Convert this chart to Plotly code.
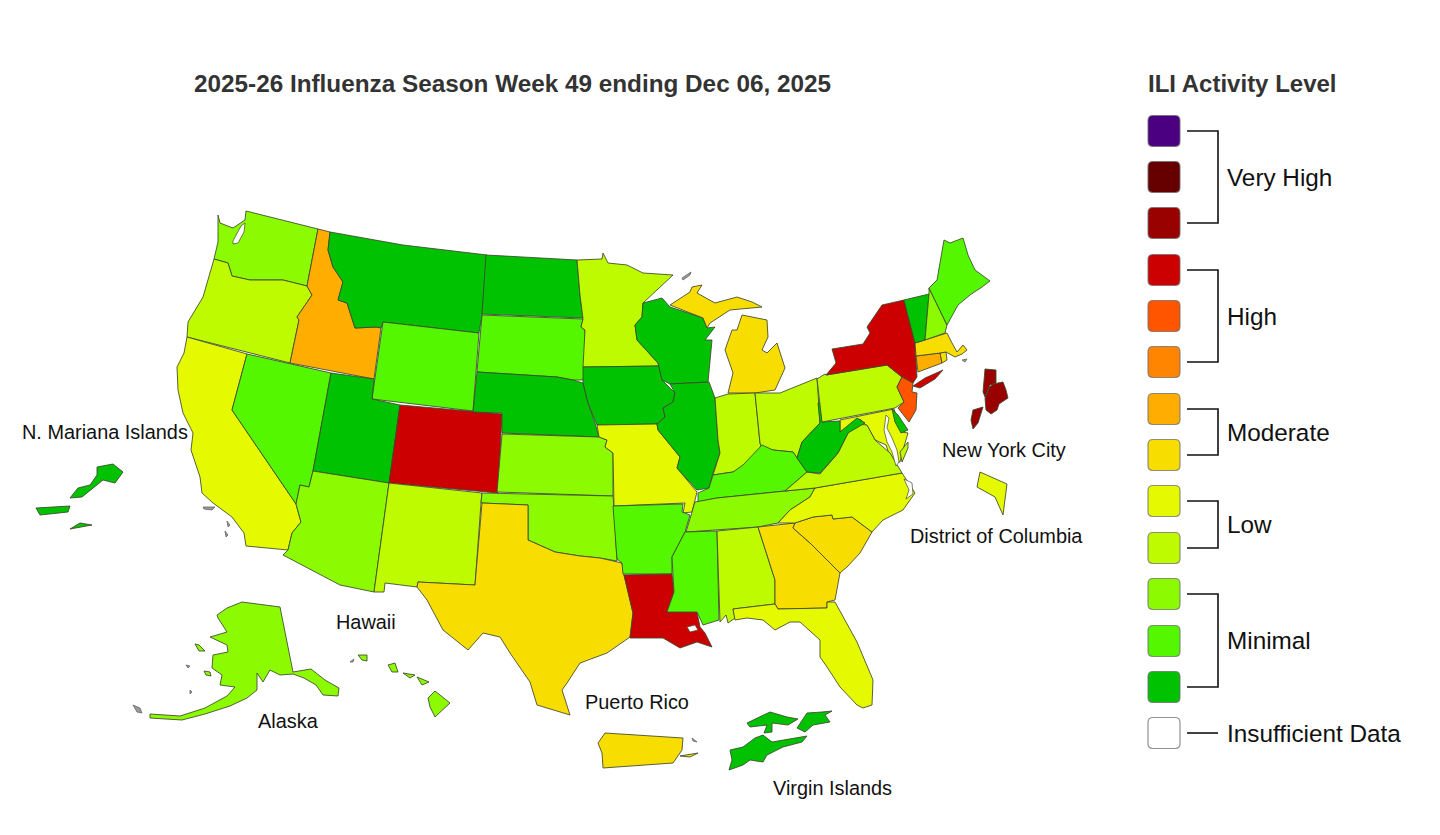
import plotly.graph_objects as go

# The map's topojson cannot be fetched offline, so region outlines are traced here
# as map geometry, in the reference's 1440x835 frame.
LEVEL_COLORS = {0: "#FFFFFF", 1: "#00C200", 2: "#55F700", 3: "#8CFA00", 4: "#BEFA00", 5: "#E5FA00",
                6: "#F8DD00", 7: "#FFAE00", 8: "#FF8400", 9: "#FF5500", 10: "#CC0000",
                11: "#990000", 12: "#660000", 13: "#4B0082"}

STATE_LEVELS = {
    "Washington": 3, "Oregon": 4, "California": 5, "Nevada": 2, "Idaho": 7, "Montana": 1, "Wyoming": 2,
    "Utah": 1, "Colorado": 10, "Arizona": 3, "New Mexico": 4, "North Dakota": 1, "South Dakota": 2,
    "Nebraska": 1, "Kansas": 3, "Oklahoma": 3, "Texas": 6, "Minnesota": 4, "Iowa": 1, "Missouri": 5,
    "Arkansas": 2, "Louisiana": 10, "Wisconsin": 1, "Illinois": 1, "Michigan": 6, "Indiana": 4, "Ohio": 4,
    "Kentucky": 2, "Tennessee": 3, "Mississippi": 2, "Alabama": 4, "Georgia": 6, "Florida": 5,
    "South Carolina": 6, "North Carolina": 5, "Virginia": 4, "Maryland": 5, "West Virginia": 1,
    "Delaware": 1, "Pennsylvania": 4, "New York": 10, "New Jersey": 9, "Connecticut": 7, "Rhode Island": 6,
    "Massachusetts": 6, "Vermont": 1, "New Hampshire": 3, "Maine": 2, "District of Columbia": 5,
    "New York City": 11, "Alaska": 3, "Hawaii": 3, "Puerto Rico": 6, "Virgin Islands": 1,
    "N. Mariana Islands": 1,
}

STATE_OUTLINES = {
    "Washington": [[(218,215),(220,223),(233,228),(245,220),(246,211),(318,229),(307,286),(283,280),(250,280),(232,276),(228,263),(217,260),(214,259),(218,242)]],
    "Oregon": [[(214,259),(217,260),(228,263),(232,276),(250,280),(283,280),(307,286),(312,295),(297,317),(299,320),(290,363),(187,337),(188,322),(203,297)]],
    "California": [[(187,337),(247,354),(232,410),(296,504),(301,522),(292,533),(288,550),(246,546),(244,533),(232,517),(213,503),(202,493),(200,477),(191,450),(193,433),(183,413),(178,390),(177,367),(184,353)]],
    "Nevada": [[(247,354),(331,373),(313,471),(309,487),(300,485),(296,504),(232,410)]],
    "Idaho": [[(318,229),(330,232),(328,250),(333,267),(343,282),(338,300),(347,303),(355,328),(377,327),(381,328),(374,379),(290,363),(299,320),(297,317),(312,295),(307,286)]],
    "Montana": [[(330,232),(403,245),(487,255),(482,315),(479,333),(383,322),(381,328),(377,327),(355,328),(347,303),(338,300),(343,282),(333,267),(328,250)]],
    "Wyoming": [[(383,322),(479,333),(473,411),(372,399)]],
    "Utah": [[(331,373),(374,379),(372,399),(400,405),(389,483),(313,471)]],
    "Colorado": [[(400,405),(502,414),(498,493),(389,483)]],
    "Arizona": [[(313,471),(389,483),(374,592),(340,585),(283,555),(288,550),(292,533),(301,522),(296,504),(300,485),(309,487)]],
    "New Mexico": [[(389,483),(482,493),(481,503),(475,585),(418,582),(417,587),(385,583),(384,592),(374,592)]],
    "North Dakota": [[(486,255),(577,260),(580,295),(583,318),(482,314)]],
    "South Dakota": [[(482,315),(583,319),(581,327),(585,330),(585,367),(583,380),(573,380),(557,377),(477,372)]],
    "Nebraska": [[(477,372),(557,377),(573,380),(583,383),(588,403),(595,423),(599,437),(502,433),(502,413),(473,412)]],
    "Kansas": [[(502,434),(599,437),(607,440),(605,447),(613,453),(613,496),(497,492)]],
    "Oklahoma": [[(482,493),(613,496),(614,507),(617,561),(600,558),(580,556),(555,552),(528,540),(528,505),(481,503)]],
    "Texas": [[(482,503),(528,505),(528,540),(555,552),(580,556),(600,558),(622,563),(624,575),(633,613),(630,637),(607,653),(580,663),(567,683),(562,690),(570,715),(537,705),(530,682),(510,653),(500,637),(483,633),(468,650),(443,630),(427,600),(417,587),(418,582),(475,585)]],
    "Minnesota": [[(577,260),(602,259),(603,253),(608,263),(627,265),(643,273),(673,275),(643,303),(642,317),(635,325),(637,340),(658,363),(659,366),(583,367),(585,330),(581,327),(583,319),(580,295)]],
    "Iowa": [[(583,367),(659,366),(662,380),(675,393),(673,402),(663,408),(665,417),(657,424),(597,425),(588,403),(583,383)]],
    "Missouri": [[(597,425),(657,424),(658,430),(680,457),(677,468),(697,492),(692,512),(683,513),(685,503),(614,506),(613,453),(605,447),(607,440),(599,437)]],
    "Arkansas": [[(613,506),(683,504),(682,512),(690,515),(685,532),(672,557),(672,574),(623,574),(622,563),(617,559)]],
    "Louisiana": [[(624,575),(672,574),(674,592),(667,612),(697,612),(700,627),(705,633),(712,647),(697,642),(680,648),(663,638),(630,638),(633,613)]],
    "Wisconsin": [[(643,303),(662,298),(670,307),(703,318),(707,328),(715,327),(705,340),(712,340),(708,382),(670,384),(662,380),(659,366),(658,363),(637,340),(635,325),(642,317)]],
    "Illinois": [[(670,384),(709,382),(715,398),(718,440),(720,453),(713,473),(709,488),(697,490),(677,468),(680,457),(658,430),(657,424),(665,417),(663,408),(673,402),(675,393)]],
    "Michigan": [[(728,393),(733,373),(725,350),(732,330),(737,330),(742,315),(767,320),(768,337),(762,350),(767,353),(777,343),(785,368),(775,390),(755,393)],
                 [(670,305),(690,292),(692,287),(702,285),(697,293),(715,303),(737,297),(752,302),(762,307),(743,309),(730,310),(710,323),(707,328),(703,318)]],
    "Indiana": [[(715,398),(728,394),(755,393),(760,443),(762,448),(743,467),(733,472),(713,475),(720,453),(718,440)]],
    "Ohio": [[(755,393),(780,393),(817,378),(820,423),(802,442),(797,458),(793,452),(773,450),(762,448),(760,443)]],
    "Kentucky": [[(698,502),(698,493),(709,488),(713,475),(733,472),(743,465),(762,445),(773,450),(793,452),(797,458),(807,472),(785,491),(717,498)]],
    "Tennessee": [[(686,532),(691,515),(695,502),(717,498),(785,491),(815,488),(810,497),(790,510),(778,523),(758,527)]],
    "Mississippi": [[(685,532),(717,531),(719,620),(703,625),(697,612),(667,612),(674,592),(672,557)]],
    "Alabama": [[(717,531),(758,527),(775,580),(775,604),(733,609),(735,618),(728,623),(726,615),(720,622)]],
    "Georgia": [[(758,527),(795,523),(793,528),(810,543),(840,573),(835,600),(827,602),(827,608),(778,609),(775,604),(775,580)]],
    "Florida": [[(733,609),(775,604),(778,609),(827,608),(827,602),(835,602),(857,642),(873,680),(872,705),(863,708),(857,705),(840,687),(827,667),(820,657),(820,640),(800,622),(790,622),(775,630),(763,620),(747,618),(735,620)]],
    "South Carolina": [[(795,523),(813,517),(832,515),(833,519),(852,517),(872,532),(860,553),(847,567),(840,573),(810,543),(793,528)]],
    "North Carolina": [[(815,488),(902,473),(915,493),(903,510),(883,520),(872,532),(852,517),(833,519),(832,515),(813,517),(795,523),(778,523),(790,510),(810,497)]],
    "Maryland": [[(840,420),(894,409),(902,432),(908,433),(903,450),(900,462),(892,462),(886,445),(875,440),(868,427),(860,419),(848,428),(840,432)]],
    "Virginia": [[(785,491),(807,472),(820,474),(838,453),(842,445),(848,433),(857,424),(867,425),(875,440),(890,453),(902,473),(815,488)],
                 [(908,442),(908,448),(902,462),(900,452)]],
    "West Virginia": [[(797,458),(802,442),(820,423),(818,403),(821,402),(822,422),(840,421),(840,432),(857,418),(865,423),(848,433),(842,445),(838,453),(820,473),(807,472)]],
    "Delaware": [[(892,409),(898,415),(908,430),(901,433),(895,422)]],
    "Pennsylvania": [[(817,379),(825,374),(826,375),(887,365),(902,377),(897,387),(904,402),(895,408),(822,422)]],
    "New York": [[(826,375),(836,363),(832,349),(863,344),(870,333),(867,327),(882,305),(904,300),(915,343),(917,377),(913,383),(902,377),(887,365)],
                 [(913,386),(925,378),(943,370),(935,379),(920,388)]],
    "New Jersey": [[(902,377),(913,383),(912,392),(917,393),(916,410),(909,422),(898,408),(904,402),(897,387)]],
    "Connecticut": [[(916,356),(940,353),(942,363),(918,372)]],
    "Rhode Island": [[(940,353),(946,352),(947,360),(942,363)]],
    "Massachusetts": [[(915,343),(947,333),(952,343),(957,352),(963,345),(967,350),(962,354),(955,357),(946,352),(940,353),(916,356)]],
    "Vermont": [[(904,300),(929,294),(925,340),(915,343)]],
    "New Hampshire": [[(929,288),(947,325),(945,333),(925,340),(929,294)]],
    "Maine": [[(929,288),(937,280),(944,240),(950,243),(963,238),(968,255),(975,270),(990,281),(982,287),(970,295),(958,305),(947,325)]],
    "District of Columbia": [[(980,472),(1007,484),(1003,515),(995,497),(977,487)]],
    "New York City": [[(985,369),(996,370),(996,383),(990,385),(985,397),(983,392)],
                      [(989,388),(993,384),(1003,382),(1006,390),(1008,398),(999,404),(997,410),(991,414),(986,410),(985,398)],
                      [(973,410),(983,407),(978,423),(973,429),(971,420)]],
    "Alaska": [[(217,615),(227,608),(242,602),(280,607),(293,672),(311,669),(325,680),(339,688),(338,696),(323,695),(316,685),(304,678),(293,674),(280,675),(270,670),(263,682),(257,673),(257,690),(247,698),(230,706),(205,714),(182,720),(150,718),(150,714),(180,716),(205,708),(227,696),(235,687),(220,685),(222,675),(212,668),(213,655),(228,652),(227,645),(210,637),(227,632),(218,618)],
               [(195,644),(199,645),(205,651),(199,651)], [(204,671),(210,672),(211,676),(206,675)]],
    "Hawaii": [[(428,698),(435,691),(450,703),(435,717),(430,707)], [(417,677),(429,682),(422,685)],
               [(403,673),(415,675),(410,678)], [(388,665),(395,663),(398,672),(392,672)],
               [(358,655),(367,655),(367,661),(362,660)]],
    "Puerto Rico": [[(598,743),(605,733),(683,738),(682,750),(673,763),(603,768),(602,753)], [(680,756),(698,753),(690,757)]],
    "Virgin Islands": [[(747,723),(762,716),(770,712),(787,717),(798,719),(788,725),(772,723),(772,732),(764,733),(767,725),(750,727)],
                       [(797,728),(807,713),(822,712),(832,711),(825,715),(830,722),(813,725),(805,732)],
                       [(730,750),(743,747),(755,738),(763,735),(772,742),(807,736),(802,742),(783,747),(767,755),(763,762),(750,760),(743,765),(729,770),(732,760)]],
    "N. Mariana Islands": [[(97,467),(113,464),(123,472),(115,483),(103,480),(93,488),(82,497),(70,498),(78,488),(90,485),(97,475)],
                           [(36,508),(70,506),(68,512),(40,515)], [(70,529),(80,523),(92,525),(80,527)]],
}

WATER_OUTLINES = [
    [(241,226),(245,223),(244,232),(238,243),(233,244),(233,241)],
    [(886,415),(889,418),(887,428),(892,438),(897,450),(899,462),(896,466),(892,452),(887,442),(884,430)],
    [(904,479),(912,483),(913,494),(906,499),(909,490)],
    [(687,627),(695,625),(698,630),(690,632)],
]
MINOR_ISLANDS = [
    [(682,278),(691,272),(690,275),(683,280)], [(203,507),(215,507),(212,510),(204,509)],
    [(227,521),(230,525),(228,527)], [(225,531),(228,535),(226,537)],
    [(186,665),(190,666),(188,668)], [(190,690),(192,692),(190,694)],
    [(133,705),(140,708),(142,713),(137,712)], [(350,662),(354,659),(353,662)],
    [(692,738),(697,742),(693,741)], [(962,360),(967,359),(965,362)],
]

TITLE = "2025-26 Influenza Season Week 49 ending Dec 06, 2025"
LEGEND_TITLE = "ILI Activity Level"
SWATCH_LEVELS = [13, 12, 11, 10, 9, 8, 7, 6, 5, 4, 3, 2, 1, 0]
SWATCH_CENTERS = [131, 177, 223, 270, 316, 362, 409, 455, 501, 548, 594, 641, 687, 733]
LEGEND_GROUPS = [("Very High", 131, 223), ("High", 270, 362), ("Moderate", 409, 455),
                 ("Low", 501, 548), ("Minimal", 594, 687), ("Insufficient Data", 733, 733)]
MAP_LABELS = [("N. Mariana Islands", 105, 432), ("New York City", 1004, 450), ("District of Columbia", 996, 536),
              ("Hawaii", 366, 622), ("Alaska", 288, 721), ("Puerto Rico", 637, 702), ("Virgin Islands", 832, 788)]

FONT = "Liberation Sans"
EDGE = "rgba(60,70,45,0.85)"


def flatten(polys):
    xs, ys = [], []
    for poly in polys:
        xs += [p[0] for p in poly] + [poly[0][0], None]
        ys += [p[1] for p in poly] + [poly[0][1], None]
    return xs, ys


fig = go.Figure()
for name, polys in STATE_OUTLINES.items():
    xs, ys = flatten(polys)
    fig.add_trace(go.Scatter(x=xs, y=ys, mode="lines", fill="toself", name=name,
                             fillcolor=LEVEL_COLORS[STATE_LEVELS[name]], line=dict(color=EDGE, width=1),
                             hoverinfo="name", showlegend=False))
xs, ys = flatten(WATER_OUTLINES)
fig.add_trace(go.Scatter(x=xs, y=ys, mode="lines", fill="toself", fillcolor="white",
                         line=dict(color=EDGE, width=0.8), hoverinfo="skip", showlegend=False))
xs, ys = flatten(MINOR_ISLANDS)
fig.add_trace(go.Scatter(x=xs, y=ys, mode="lines", fill="toself", fillcolor="#999999",
                         line=dict(color="#666666", width=0.8), hoverinfo="skip", showlegend=False))

shapes = []
HALF, R = 16, 5
for level, cy in zip(SWATCH_LEVELS, SWATCH_CENTERS):
    x0, x1, y0, y1 = 1164 - HALF, 1164 + HALF, cy - 15.5, cy + 15.5
    path = (f"M {x0+R} {y0} L {x1-R} {y0} Q {x1} {y0} {x1} {y0+R} L {x1} {y1-R} Q {x1} {y1} {x1-R} {y1} "
            f"L {x0+R} {y1} Q {x0} {y1} {x0} {y1-R} L {x0} {y0+R} Q {x0} {y0} {x0+R} {y0} Z")
    shapes.append(dict(type="path", path=path, fillcolor=LEVEL_COLORS[level],
                       line=dict(color="rgba(110,110,110,0.75)", width=1.2)))
for label, top, bottom in LEGEND_GROUPS:
    if top == bottom:
        path = f"M 1187 {top} L 1218 {top}"
    else:
        path = f"M 1187 {top} L 1218 {top} L 1218 {bottom} L 1187 {bottom}"
    shapes.append(dict(type="path", path=path, line=dict(color="#111111", width=1.6)))

annotations = [
    dict(x=512.5, y=83, text=f"<b>{TITLE}</b>", xanchor="center", font=dict(size=24.3, color="#333333", family=FONT)),
    dict(x=1145.5, y=83, text=f"<b>{LEGEND_TITLE}</b>", xanchor="left", font=dict(size=24, color="#333333", family=FONT)),
]
for label, top, bottom in LEGEND_GROUPS:
    annotations.append(dict(x=1224.5, y=(top + bottom) / 2, text=label, xanchor="left",
                            font=dict(size=24.3, color="#111111", family=FONT)))
for label, x, y in MAP_LABELS:
    annotations.append(dict(x=x, y=y, text=label, xanchor="center", font=dict(size=19.9, color="#111111", family=FONT)))
for a in annotations:
    a.update(showarrow=False, yanchor="middle", xref="x", yref="y")

fig.update_layout(
    width=1440, height=835, margin=dict(l=0, r=0, t=0, b=0),
    paper_bgcolor="white", plot_bgcolor="white", showlegend=False,
    xaxis=dict(range=[0, 1440], visible=False, fixedrange=True),
    yaxis=dict(range=[835, 0], visible=False, fixedrange=True),
    shapes=shapes, annotations=annotations,
)
fig.write_html("out.html", config={"displayModeBar": False}, post_script="document.body.style.margin='0';")
